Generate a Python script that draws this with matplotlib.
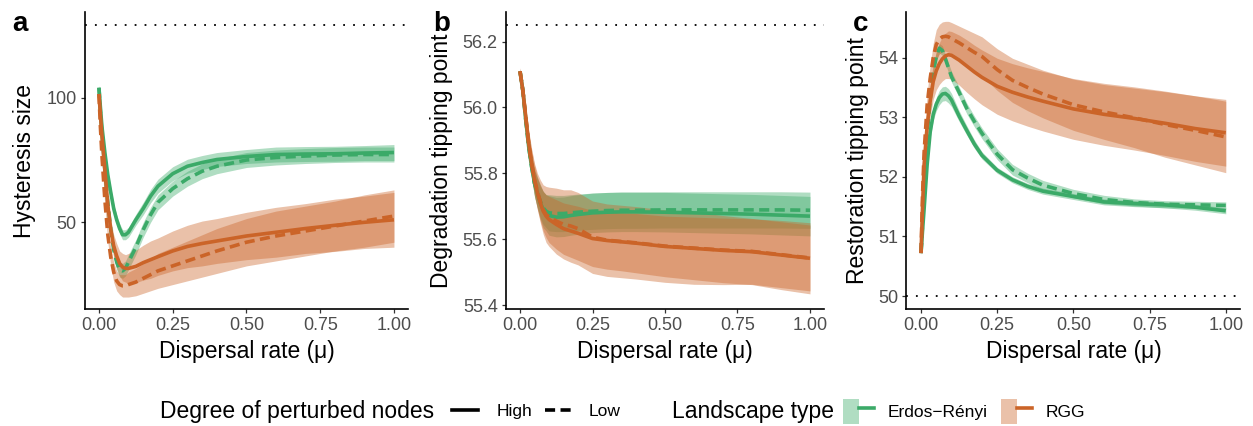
#!/usr/bin/env python3
import matplotlib

matplotlib.use("Agg")

import matplotlib.pyplot as plt
from matplotlib.lines import Line2D
from matplotlib.patches import Patch
from matplotlib.legend_handler import HandlerTuple

plt.rcParams["font.family"] = ["Liberation Sans", "DejaVu Sans"]

# dispersal rate grid (mu) shared by all series
mu = [0, 0.005, 0.01, 0.02, 0.03, 0.04, 0.05, 0.06, 0.07, 0.08, 0.09, 0.1, 0.125,
      0.15, 0.175, 0.2, 0.25, 0.3, 0.35, 0.4, 0.5, 0.6, 0.7, 0.8, 0.9, 1.0]

# panel a: hysteresis size
hyst_er_high = [104, 96, 88.5, 78, 69, 62, 55.5, 51, 47.5, 45, 45, 46, 51, 55.5, 60.5,
                64.5, 69.5, 72.5, 74, 75.2, 76.4, 77.2, 77.4, 77.5, 77.8, 78]
hyst_er_high_sd = [1, 1.5, 1.8, 2, 2, 2, 2, 2, 2, 2, 2, 2, 2.2, 2.5, 2.7, 2.8, 2.8, 2.8,
                   2.8, 2.8, 2.8, 3, 3, 3, 3, 3.2]
hyst_er_low = [104, 94, 86, 71, 58, 47, 39, 34, 31, 30.5, 31.5, 34, 40, 47, 53, 58,
               63.5, 67.5, 70.5, 72.5, 75, 76, 76.6, 77, 77.2, 77.2]
hyst_er_low_sd = [1, 2, 2.5, 3, 3, 3, 3, 3, 3, 3, 3, 3, 3, 3, 3, 3, 3, 3, 3, 3, 3, 3,
                  3, 3, 3, 3]
hyst_rgg_high = [101.5, 93, 85, 71, 57, 47, 40.5, 36.5, 33.5, 32, 31.5, 31.5, 32.3,
                 33.8, 35, 36.2, 38.5, 40.3, 41.5, 42.5, 44.5, 46, 47.5, 48.8, 50, 51]
hyst_rgg_high_sd = [0.5, 1.5, 2.5, 3, 3.5, 4, 4.5, 5, 5, 5.5, 5.5, 6, 6.5, 7, 7.5, 7.5,
                    8, 8.5, 9, 9, 9.5, 10, 10, 10.5, 10.5, 11]
hyst_rgg_low = [101.5, 88, 77, 59, 45, 36, 30, 26.5, 25, 24.5, 24.5, 25, 26, 27.5, 29,
                30.5, 32.5, 34.5, 36.5, 38.5, 42, 44.5, 46.5, 48.5, 50.5, 52.5]
hyst_rgg_low_sd = [0.5, 1.5, 2, 2.5, 3, 3.5, 4, 4, 4, 4.5, 4.5, 5, 5.5, 6, 6.5, 7,
                   7.5, 8, 8.5, 9, 9.5, 10, 10, 10, 10.5, 10.5]

# panel b: degradation tipping point
deg_er_high = [56.11, 56.08, 56.05, 55.96, 55.88, 55.82, 55.77, 55.74, 55.71, 55.69,
               55.68, 55.672, 55.667, 55.668, 55.672, 55.675, 55.68, 55.682, 55.683,
               55.683, 55.682, 55.68, 55.678, 55.676, 55.673, 55.67]
deg_er_high_sd = [0.005, 0.01, 0.015, 0.02, 0.03, 0.035, 0.04, 0.045, 0.05, 0.055,
                  0.055, 0.06, 0.06, 0.06, 0.06, 0.06, 0.06, 0.06, 0.06, 0.06, 0.06,
                  0.06, 0.06, 0.06, 0.06, 0.06]
deg_er_low = [56.11, 56.08, 56.05, 55.96, 55.88, 55.82, 55.77, 55.74, 55.715, 55.695,
              55.685, 55.68, 55.678, 55.678, 55.68, 55.682, 55.685, 55.687, 55.688,
              55.688, 55.689, 55.689, 55.689, 55.689, 55.689, 55.688]
deg_er_low_sd = [0.005, 0.01, 0.015, 0.02, 0.03, 0.035, 0.04, 0.045, 0.05, 0.05, 0.05,
                 0.055, 0.055, 0.055, 0.055, 0.055, 0.055, 0.055, 0.055, 0.055, 0.055,
                 0.055, 0.055, 0.055, 0.055, 0.055]
deg_rgg_high = [56.11, 56.08, 56.05, 55.97, 55.89, 55.83, 55.78, 55.74, 55.71, 55.685,
                55.67, 55.66, 55.645, 55.632, 55.625, 55.618, 55.602, 55.596, 55.592,
                55.588, 55.578, 55.572, 55.566, 55.562, 55.552, 55.542]
deg_rgg_high_sd = [0.01, 0.015, 0.02, 0.03, 0.035, 0.04, 0.045, 0.05, 0.055, 0.06,
                   0.065, 0.07, 0.075, 0.078, 0.08, 0.082, 0.085, 0.087, 0.088, 0.09,
                   0.092, 0.095, 0.098, 0.1, 0.105, 0.108]
deg_rgg_low = [56.11, 56.08, 56.05, 55.97, 55.89, 55.83, 55.78, 55.745, 55.715, 55.69,
               55.675, 55.668, 55.655, 55.645, 55.64, 55.632, 55.606, 55.597, 55.593,
               55.589, 55.579, 55.573, 55.567, 55.563, 55.553, 55.543]
deg_rgg_low_sd = [0.01, 0.015, 0.02, 0.03, 0.04, 0.045, 0.05, 0.055, 0.065, 0.075,
                  0.085, 0.09, 0.1, 0.105, 0.11, 0.11, 0.11, 0.11, 0.11, 0.11, 0.11,
                  0.11, 0.105, 0.1, 0.1, 0.1]

# panel c: restoration tipping point
res_er_high = [50.72, 51.1, 51.45, 52.2, 52.75, 53.05, 53.22, 53.33, 53.39, 53.4,
               53.36, 53.29, 53.02, 52.78, 52.55, 52.36, 52.11, 51.95, 51.84, 51.76,
               51.67, 51.58, 51.55, 51.53, 51.49, 51.43]
res_er_high_sd = [0.02, 0.04, 0.05, 0.07, 0.09, 0.1, 0.11, 0.12, 0.12, 0.12, 0.12,
                  0.11, 0.09, 0.08, 0.07, 0.06, 0.05, 0.05, 0.05, 0.05, 0.05, 0.05,
                  0.05, 0.05, 0.05, 0.05]
res_er_low = [50.72, 51.2, 51.75, 52.7, 53.3, 53.75, 54.02, 54.16, 54.12, 53.98, 53.83,
              53.68, 53.42, 53.15, 52.93, 52.73, 52.38, 52.12, 51.98, 51.86, 51.72,
              51.62, 51.57, 51.54, 51.53, 51.52]
res_er_low_sd = [0.02, 0.05, 0.06, 0.07, 0.08, 0.08, 0.08, 0.08, 0.08, 0.08, 0.08,
                 0.09, 0.09, 0.09, 0.09, 0.09, 0.09, 0.09, 0.08, 0.08, 0.07, 0.07,
                 0.06, 0.06, 0.06, 0.06]
res_rgg_high = [50.72, 51.5, 52.2, 52.85, 53.27, 53.6, 53.78, 53.9, 53.98, 54.03,
                54.05, 54.04, 53.96, 53.86, 53.76, 53.67, 53.52, 53.42, 53.34, 53.27,
                53.14, 53.05, 52.98, 52.9, 52.81, 52.74]
res_rgg_high_sd = [0.02, 0.1, 0.15, 0.2, 0.25, 0.3, 0.32, 0.35, 0.37, 0.38, 0.4, 0.4,
                   0.42, 0.44, 0.45, 0.46, 0.47, 0.48, 0.49, 0.5, 0.51, 0.52, 0.53,
                   0.54, 0.55, 0.56]
res_rgg_low = [50.72, 51.7, 52.4, 53.2, 53.65, 54.0, 54.22, 54.31, 54.35, 54.36, 54.35,
               54.32, 54.25, 54.17, 54.09, 54.02, 53.8, 53.62, 53.5, 53.39, 53.21,
               53.09, 52.99, 52.88, 52.78, 52.67]
res_rgg_low_sd = [0.02, 0.1, 0.15, 0.2, 0.22, 0.24, 0.25, 0.25, 0.25, 0.25, 0.26, 0.27,
                  0.28, 0.3, 0.32, 0.33, 0.35, 0.37, 0.39, 0.4, 0.43, 0.46, 0.5, 0.55,
                  0.58, 0.6]

# reference (no dispersal) levels, dotted lines
hyst_ref = 129.3
deg_ref = 56.25
res_ref = 50.0

GREEN = "#3BAA68"
ORANGE = "#CB6428"
TICK_GREY = "#4D4D4D"
LW = 2.6
DASHED = (0, (2.8, 1.5))

W, H = 1253, 426


def px_axes(fig, left, right, top=12, bottom=309):
    return fig.add_axes(
        [left / W, 1 - bottom / H, (right - left) / W, (bottom - top) / H]
    )


def band(ax, y, sd, color):
    lo = [a - b for a, b in zip(y, sd)]
    hi = [a + b for a, b in zip(y, sd)]
    ax.fill_between(mu, lo, hi, color=color, alpha=0.4, lw=0)


def panel(ax, curves, ylim, yticks, yticklabels, ylabel, ylabel_x, ref):
    er_high, er_high_sd, er_low, er_low_sd, rgg_high, rgg_high_sd, rgg_low, rgg_low_sd = curves

    band(ax, er_high, er_high_sd, GREEN)
    band(ax, er_low, er_low_sd, GREEN)
    band(ax, rgg_high, rgg_high_sd, ORANGE)
    band(ax, rgg_low, rgg_low_sd, ORANGE)

    ax.plot(mu, er_high, color=GREEN, lw=LW, solid_capstyle="butt")
    ax.plot(mu, er_low, color=GREEN, lw=LW, ls=DASHED)
    ax.plot(mu, rgg_low, color=ORANGE, lw=LW, ls=DASHED)
    ax.plot(mu, rgg_high, color=ORANGE, lw=LW, solid_capstyle="butt")

    ax.axhline(ref, color="black", lw=1.3, ls=(0, (1, 4.5)))

    ax.set_xlim(-0.048, 1.048)
    ax.set_ylim(*ylim)
    ax.set_xticks([0, 0.25, 0.5, 0.75, 1.0])
    ax.set_xticklabels(["0.00", "0.25", "0.50", "0.75", "1.00"])
    ax.set_yticks(yticks)
    ax.set_yticklabels(yticklabels)

    for s in ["top", "right"]:
        ax.spines[s].set_visible(False)
    for s in ["left", "bottom"]:
        ax.spines[s].set_linewidth(1.2)
        ax.spines[s].set_color("black")
    ax.tick_params(length=3, width=0.9, color="#333333", labelsize=13,
                   labelcolor=TICK_GREY, pad=3)

    ax.set_xlabel("Dispersal rate (μ)", fontsize=16.5)
    ax.xaxis.set_label_coords(0.5, -0.104)
    ax.set_ylabel(ylabel, fontsize=16.5)
    ax.yaxis.set_label_coords(ylabel_x, 0.5)


def main():
    fig = plt.figure(figsize=(W / 100, H / 100), dpi=100)

    ax_a = px_axes(fig, 84.8, 408.1)
    ax_b = px_axes(fig, 506.1, 823.9)
    ax_c = px_axes(fig, 906.4, 1240.4)

    panel(ax_a,
          (hyst_er_high, hyst_er_high_sd, hyst_er_low, hyst_er_low_sd,
           hyst_rgg_high, hyst_rgg_high_sd, hyst_rgg_low, hyst_rgg_low_sd),
          (15.2, 134.4), [50, 100], ["50", "100"],
          "Hysteresis size", -0.151, hyst_ref)
    panel(ax_b,
          (deg_er_high, deg_er_high_sd, deg_er_low, deg_er_low_sd,
           deg_rgg_high, deg_rgg_high_sd, deg_rgg_low, deg_rgg_low_sd),
          (55.388, 56.29), [55.4, 55.6, 55.8, 56.0, 56.2],
          ["55.4", "55.6", "55.8", "56.0", "56.2"],
          "Degradation tipping point", -0.167, deg_ref)
    panel(ax_c,
          (res_er_high, res_er_high_sd, res_er_low, res_er_low_sd,
           res_rgg_high, res_rgg_high_sd, res_rgg_low, res_rgg_low_sd),
          (49.782, 54.767), [50, 51, 52, 53, 54], ["50", "51", "52", "53", "54"],
          "Restoration tipping point", -0.113, res_ref)

    # panel tags
    for x, tag in [(12, "a"), (433, "b"), (853, "c")]:
        fig.text(x / W, 1 - 31 / H, tag, fontsize=20, fontweight="bold",
                 va="baseline")

    # legends (ggplot style: title to the left of horizontal keys)
    base = (H - 418) / H
    mid = (H - 411.7) / H
    fig.text(160 / W, base, "Degree of perturbed nodes", fontsize=16.5,
             va="baseline")
    fig.text(672 / W, base, "Landscape type", fontsize=16.5, va="baseline")

    deg_handles = [Line2D([], [], color="black", lw=LW),
                   Line2D([], [], color="black", lw=LW, ls=DASHED)]
    fig.legend(deg_handles, ["High", "Low"], loc="center left",
               bbox_to_anchor=(452 / W, mid), ncol=2, frameon=False,
               fontsize=12.5, handlelength=1.5, handletextpad=1.05,
               columnspacing=0.72, borderpad=0, borderaxespad=0)

    land_handles = [
        (Patch(facecolor=GREEN, alpha=0.4, lw=0), Line2D([], [], color=GREEN, lw=LW)),
        (Patch(facecolor=ORANGE, alpha=0.4, lw=0), Line2D([], [], color=ORANGE, lw=LW)),
    ]
    fig.legend(land_handles, ["Erdos−Rényi", "RGG"], loc="center left",
               bbox_to_anchor=(843 / W, mid), ncol=2, frameon=False,
               fontsize=12.5, handlelength=1.79, handleheight=1.79,
               handletextpad=0.8, columnspacing=0.75, borderpad=0,
               borderaxespad=0, handler_map={tuple: HandlerTuple(ndivide=None)})

    fig.savefig("out.png", dpi=100)


main()
